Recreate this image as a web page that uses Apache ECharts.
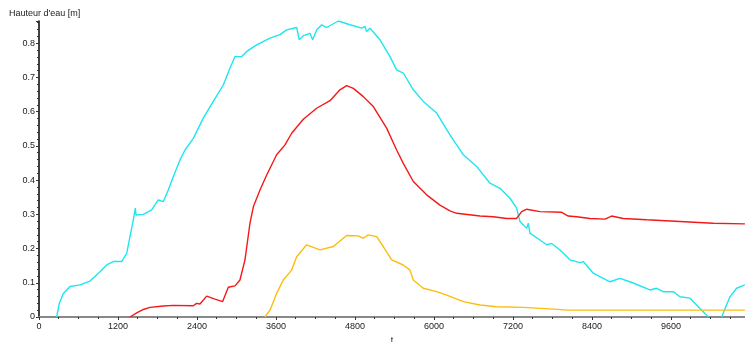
<!DOCTYPE html>
<html>
<head>
<meta charset="utf-8">
<script src="https://cdn.jsdelivr.net/npm/echarts@6/dist/echarts.min.js"></script>
<style>
  html, body { margin: 0; padding: 0; background: #fff; }
  #chart { width: 745px; height: 342px; }
</style>
</head>
<body>
<div id="chart"></div>
<script>
// temps (t) et hauteur d'eau (m)
const tCyan = [268, 309, 370, 471, 623, 775, 927, 1028, 1129, 1256, 1332, 1382, 1433, 1463, 1474, 1585, 1711, 1812, 1888, 1964, 2040, 2142, 2218, 2344, 2496, 2648, 2800, 2901, 2977, 3079, 3155, 3307, 3509, 3661, 3762, 3914, 3954, 4015, 4117, 4157, 4218, 4294, 4370, 4547, 4724, 4902, 4952, 4977, 5028, 5180, 5332, 5433, 5534, 5686, 5838, 6041, 6243, 6446, 6648, 6851, 7003, 7155, 7256, 7281, 7307, 7408, 7433, 7458, 7610, 7712, 7788, 7914, 8066, 8218, 8268, 8420, 8673, 8825, 8977, 9281, 9382, 9483, 9635, 9737, 9889, 10041, 10167, 10270, 10370, 10496, 10597, 10724];
const hCyan = [0, 0.04, 0.069, 0.089, 0.094, 0.105, 0.132, 0.152, 0.162, 0.162, 0.186, 0.235, 0.284, 0.318, 0.298, 0.300, 0.313, 0.342, 0.337, 0.371, 0.410, 0.459, 0.488, 0.522, 0.581, 0.630, 0.678, 0.727, 0.761, 0.761, 0.776, 0.795, 0.815, 0.825, 0.839, 0.846, 0.810, 0.822, 0.829, 0.810, 0.839, 0.854, 0.846, 0.865, 0.854, 0.844, 0.849, 0.834, 0.844, 0.810, 0.761, 0.722, 0.713, 0.664, 0.630, 0.596, 0.532, 0.474, 0.440, 0.391, 0.376, 0.347, 0.318, 0.298, 0.279, 0.259, 0.274, 0.245, 0.225, 0.211, 0.215, 0.196, 0.167, 0.159, 0.162, 0.128, 0.103, 0.113, 0.103, 0.079, 0.084, 0.074, 0.074, 0.059, 0.055, 0.025, 0, null, 0, 0.059, 0.084, 0.094];

const tRed = [1382, 1484, 1585, 1686, 1888, 2040, 2344, 2395, 2446, 2547, 2673, 2790, 2876, 2977, 3053, 3129, 3205, 3256, 3357, 3459, 3610, 3737, 3838, 4015, 4218, 4420, 4572, 4673, 4775, 4927, 5079, 5281, 5433, 5534, 5686, 5889, 6091, 6243, 6345, 6699, 6901, 7104, 7256, 7332, 7408, 7610, 7940, 8040, 8167, 8370, 8598, 8699, 8876, 9231, 9737, 10243, 10724];
const hRed = [0, 0.012, 0.022, 0.028, 0.032, 0.034, 0.033, 0.040, 0.038, 0.061, 0.052, 0.045, 0.087, 0.091, 0.108, 0.167, 0.274, 0.322, 0.371, 0.415, 0.474, 0.503, 0.537, 0.578, 0.610, 0.632, 0.664, 0.676, 0.668, 0.644, 0.615, 0.552, 0.488, 0.449, 0.396, 0.357, 0.327, 0.310, 0.303, 0.295, 0.293, 0.288, 0.288, 0.308, 0.315, 0.308, 0.306, 0.295, 0.293, 0.288, 0.286, 0.295, 0.288, 0.284, 0.279, 0.274, 0.272];

const tOrange = [3433, 3509, 3610, 3711, 3838, 3914, 4066, 4268, 4471, 4673, 4851, 4927, 5003, 5129, 5230, 5357, 5534, 5635, 5686, 5838, 6041, 6193, 6446, 6699, 6952, 7357, 7812, 8040, 10724];
const hOrange = [0, 0.020, 0.069, 0.108, 0.137, 0.176, 0.211, 0.196, 0.206, 0.238, 0.237, 0.230, 0.240, 0.235, 0.206, 0.167, 0.152, 0.137, 0.108, 0.084, 0.074, 0.064, 0.045, 0.035, 0.030, 0.028, 0.023, 0.020, 0.020];

const zip = (t, h) => t.map((x, i) => [x, h[i]]);

const chart = echarts.init(document.getElementById('chart'));
const font = 'Liberation Sans, Arial, sans-serif';

const line = (data, color) => ({
  type: 'line',
  data: data,
  showSymbol: false,
  connectNulls: false,
  lineStyle: { color: color, width: 1.4 },
  itemStyle: { color: color },
  animation: false
});

chart.setOption({
  backgroundColor: '#fff',
  title: {
    text: "Hauteur d'eau [m]",
    left: 4, top: 4,
    textStyle: { fontFamily: font, fontSize: 9, fontWeight: 'normal', color: '#222' }
  },
  grid: { left: 39, right: 0, top: 21, bottom: 25, outerBoundsMode: 'none' },
  xAxis: {
    type: 'value',
    min: 0, max: 10725, interval: 1200,
    name: 't', nameLocation: 'middle', nameGap: 15,
    nameTextStyle: { fontFamily: font, fontSize: 9, color: '#222' },
    axisLine: { onZero: false, lineStyle: { color: '#888', width: 2 } },
    axisTick: { length: 3, lineStyle: { color: '#333' } },
    minorTick: { show: true, splitNumber: 4, length: 2, lineStyle: { color: '#333' } },
    axisLabel: {
      fontFamily: font, fontSize: 9, color: '#222', margin: 5, showMaxLabel: false,
      formatter: v => String(v)
    },
    splitLine: { show: false }
  },
  yAxis: {
    type: 'value',
    min: 0, max: 0.865, interval: 0.1,
    axisLine: { show: true, lineStyle: { color: '#000', width: 1.5 } },
    axisTick: { show: true, length: 3, lineStyle: { color: '#333' } },
    minorTick: { show: true, splitNumber: 5, length: 2, lineStyle: { color: '#333' } },
    axisLabel: { fontFamily: font, fontSize: 9, color: '#222', margin: 4, showMaxLabel: false },
    splitLine: { show: false }
  },
  series: [
    line(zip(tCyan, hCyan), '#1ee6ee'),
    line(zip(tRed, hRed), '#f51818'),
    line(zip(tOrange, hOrange), '#fbbd10')
  ]
});
</script>
</body>
</html>
